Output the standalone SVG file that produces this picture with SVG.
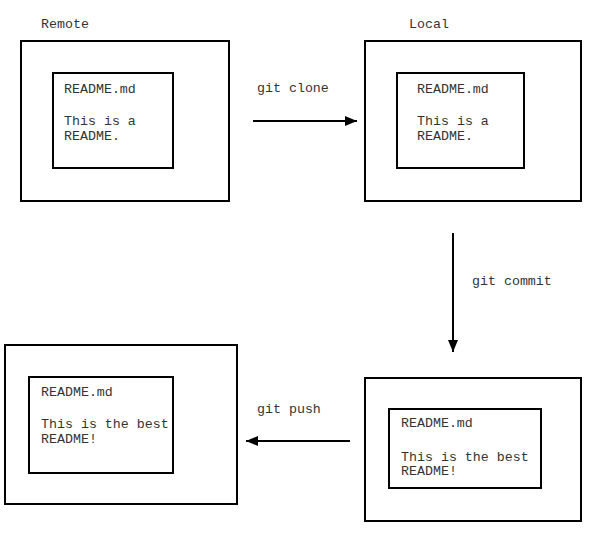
<svg xmlns="http://www.w3.org/2000/svg" width="611" height="543" viewBox="0 0 611 543">
<style>
.box{fill:#fff;stroke:#000;stroke-width:2}
.t{font-family:"Liberation Mono","DejaVu Sans Mono",monospace;font-size:13.3px;fill:#333}
.c{stroke:#000;stroke-width:2;fill:none}
</style>
<defs>
<marker id="ah" markerWidth="12" markerHeight="10" refX="12" refY="5" orient="auto" markerUnits="userSpaceOnUse">
<path d="M0,0 L12,5 L0,10 Z" fill="#000"/>
</marker>
</defs>
<rect width="611" height="543" fill="#fff"/>
<g id="remote">
<text class="t" x="41" y="28">Remote</text>
<rect class="box" x="21" y="41" width="208" height="160"/>
<rect class="box" x="53" y="73" width="120" height="95"/>
<text class="t" x="64" y="93">README.md</text>
<text class="t" x="64" y="125">This is a</text>
<text class="t" x="64" y="140">README.</text>
</g>
<g id="local">
<text class="t" x="409" y="28">Local</text>
<rect class="box" x="365" y="41" width="216" height="160"/>
<rect class="box" x="397" y="73" width="127" height="95"/>
<text class="t" x="417" y="93">README.md</text>
<text class="t" x="417" y="125">This is a</text>
<text class="t" x="417" y="140">README.</text>
</g>
<g id="local-committed">
<rect class="box" x="365" y="378" width="216" height="143"/>
<rect class="box" x="389" y="409" width="152" height="79"/>
<text class="t" x="401" y="427">README.md</text>
<text class="t" x="401" y="461">This is the best</text>
<text class="t" x="401" y="475">README!</text>
</g>
<g id="remote-pushed">
<rect class="box" x="5" y="345" width="232" height="159"/>
<rect class="box" x="29" y="377" width="144" height="96"/>
<text class="t" x="41" y="396">README.md</text>
<text class="t" x="41" y="428">This is the best</text>
<text class="t" x="41" y="443">README!</text>
</g>
<g id="connectors">
<line class="c" x1="253" y1="121" x2="357" y2="121" marker-end="url(#ah)"/>
<text class="t" x="257" y="92">git clone</text>
<line class="c" x1="453" y1="233" x2="453" y2="352" marker-end="url(#ah)"/>
<text class="t" x="472" y="285">git commit</text>
<line class="c" x1="350" y1="441" x2="246" y2="441" marker-end="url(#ah)"/>
<text class="t" x="257" y="413">git push</text>
</g>
</svg>
